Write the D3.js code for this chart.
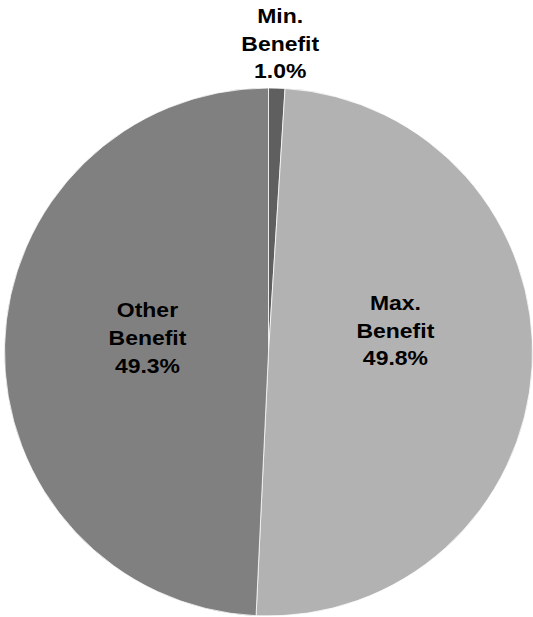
<!DOCTYPE html>
<html>
<head>
<meta charset="utf-8">
<script src="https://cdn.jsdelivr.net/npm/d3@7"></script>
<style>
  html, body { margin: 0; padding: 0; background: #ffffff; }
  svg { display: block; }
  text { font-family: "Liberation Sans", Arial, sans-serif; font-weight: bold; }
</style>
</head>
<body>
<svg id="chart" width="533" height="617"></svg>
<script>
const categories = ["Min.\nBenefit", "Max.\nBenefit", "Other\nBenefit"];
const values = [1.0, 49.8, 49.3];
const percentLabels = ["1.0%", "49.8%", "49.3%"];
const colors = ["#5f5f5f", "#b2b2b2", "#808080"];

const W = 533, H = 617;
const cx = 268.5, cy = 352, R = 264;

const svg = d3.select("#chart");
const g = svg.append("g").attr("transform", `translate(${cx},${cy})`);

const pie = d3.pie().sort(null).value(d => d.value);
const data = categories.map((c, i) => ({ name: c, value: values[i], pct: percentLabels[i], color: colors[i] }));
const arcs = pie(data);

const arc = d3.arc().innerRadius(0).outerRadius(R);

g.selectAll("path.slice")
  .data(arcs)
  .join("path")
  .attr("class", "slice")
  .attr("d", arc)
  .attr("fill", d => d.data.color)
  .attr("stroke", "#ffffff")
  .attr("stroke-width", 0.75);

const labelR = d => (d.endAngle - d.startAngle) < 0.2 ? R * 1.17 : R * 0.47;
const fontSize = 20.5, lineH = 27.8, stretch = 1.12;

arcs.forEach(d => {
  const r = labelR(d);
  const c = d3.arc().innerRadius(r).outerRadius(r).centroid(d);
  const inside = r < R;
  const mid = (d.startAngle + d.endAngle) / 2;
  const lines = d.data.name.split("\n").concat([d.data.pct]);
  const x = c[0] + (inside ? 3 : 2);
  const y = c[1] + (inside ? -20 - 8.6 * Math.sin(mid) : 0);
  const t = g.append("text")
    .attr("text-anchor", "middle")
    .attr("font-size", fontSize)
    .attr("fill", "#000")
    .attr("transform", `translate(${x},${y}) scale(${stretch},1)`);
  lines.forEach((ln, i) => {
    t.append("tspan")
      .attr("x", 0)
      .attr("y", (i - 1) * lineH + fontSize * 0.36)
      .text(ln);
  });
});
</script>
</body>
</html>
